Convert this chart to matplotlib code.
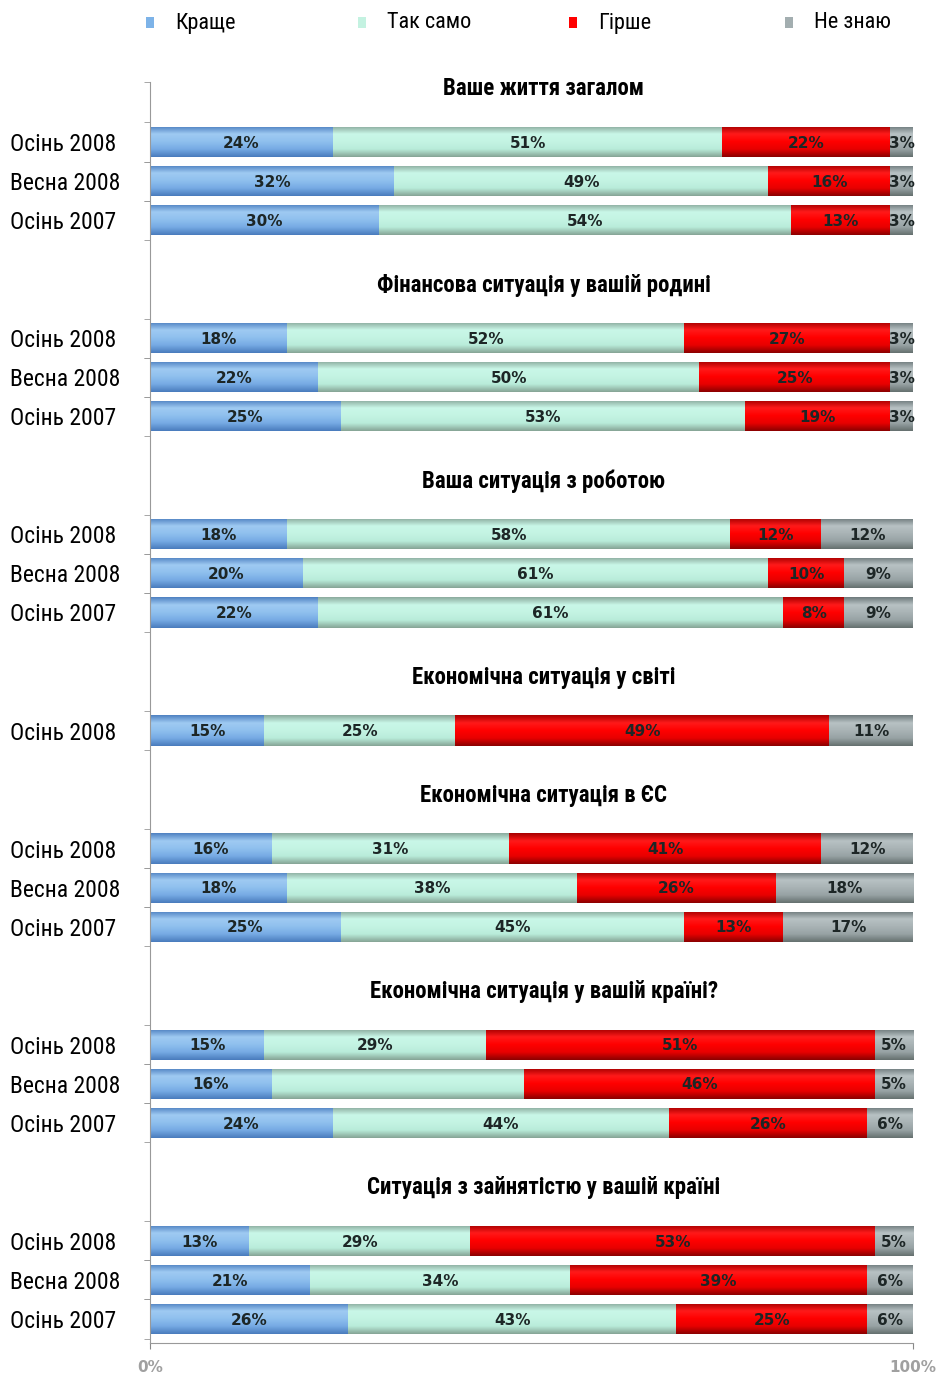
import matplotlib
matplotlib.use("Agg")
import numpy as np
import matplotlib.pyplot as plt
from matplotlib.patches import Rectangle
from matplotlib import font_manager
from matplotlib.font_manager import FontProperties
from matplotlib.colors import LinearSegmentedColormap

# ---- pick a condensed font if one is installed ----
def find_condensed(bold):
    best = None
    prefs = ['Liberation Sans Narrow', 'Roboto Condensed', 'DejaVu Sans', 'Open Sans',
             'Noto Sans', 'Roboto', 'Liberation Sans']
    for f in font_manager.fontManager.ttflist:
        st = str(f.stretch).lower()
        if not ('condensed' in st or 'narrow' in st or 'Narrow' in f.name or 'Condensed' in f.name):
            continue
        if f.style != 'normal':
            continue
        w = f.weight if isinstance(f.weight, int) else (700 if 'bold' in str(f.weight) else 400)
        if bold and w < 600:
            continue
        if not bold and w != 400:
            continue
        rank = prefs.index(f.name) if f.name in prefs else 99
        if best is None or rank < best[0]:
            best = (rank, f.fname)
    return best[1] if best else None

reg_file = find_condensed(False)
bold_file = find_condensed(True)
reg_fp = FontProperties(fname=reg_file) if reg_file else FontProperties(family='Liberation Sans')
bold_fp = FontProperties(fname=bold_file) if bold_file else FontProperties(family='Liberation Sans', weight='bold')
cond_ok = reg_file is not None

categories = ['Краще', 'Так само', 'Гірше', 'Не знаю']
colors = ['#7db3e8', '#c4f2e1', '#ff0000', '#a3aeb0']
# vertical shading of each bar (top -> bottom)
shades = [
    ['#4f82c2', '#9fcaf2', '#8fc0ee', '#76aae4', '#4a7cbd'],
    ['#8cab9e', '#c9f7e8', '#c4f4e3', '#b9ecda', '#86a596'],
    ['#a80000', '#ff1a1a', '#ff0000', '#e80000', '#8c0000'],
    ['#6f7b7d', '#b8c2c4', '#a9b3b5', '#97a2a4', '#66716f'],
]

titles = [
    'Ваше життя загалом',
    'Фінансова ситуація у вашій родині',
    'Ваша ситуація з роботою',
    'Економічна ситуація у світі',
    'Економічна ситуація в ЄС',
    'Економічна ситуація у вашій країні?',
    'Ситуація з зайнятістю у вашій країні',
]
periods = [
    ['Осінь 2008', 'Весна 2008', 'Осінь 2007'],
    ['Осінь 2008', 'Весна 2008', 'Осінь 2007'],
    ['Осінь 2008', 'Весна 2008', 'Осінь 2007'],
    ['Осінь 2008'],
    ['Осінь 2008', 'Весна 2008', 'Осінь 2007'],
    ['Осінь 2008', 'Весна 2008', 'Осінь 2007'],
    ['Осінь 2008', 'Весна 2008', 'Осінь 2007'],
]
values = [
    [[24, 51, 22, 3], [32, 49, 16, 3], [30, 54, 13, 3]],
    [[18, 52, 27, 3], [22, 50, 25, 3], [25, 53, 19, 3]],
    [[18, 58, 12, 12], [20, 61, 10, 9], [22, 61, 8, 9]],
    [[15, 25, 49, 11]],
    [[16, 31, 41, 12], [18, 38, 26, 18], [25, 45, 13, 17]],
    [[15, 29, 51, 5], [16, 33, 46, 5], [24, 44, 26, 6]],
    [[13, 29, 53, 5], [21, 34, 39, 6], [26, 43, 25, 6]],
]
# segments whose label is not shown in the original: (group, row, category)
hidden_labels = [(5, 1, 1)]

W, H = 941, 1376
fig = plt.figure(figsize=(W / 100, H / 100), dpi=100)
ax_top_px, ax_bot_px = 72, 1343
ax_l_px, ax_r_px = 150, 913
ax = fig.add_axes([ax_l_px / W, 1 - ax_bot_px / H, (ax_r_px - ax_l_px) / W,
                   (ax_bot_px - ax_top_px) / H])

title_gap, group_gap = 1.36, 1.66
y = 0.0
title_pos, row_pos, row_lab, row_vals, row_ids = [], [], [], [], []
boundaries = []
for g, (t, ps, vs) in enumerate(zip(titles, periods, values)):
    title_pos.append(y)
    y += title_gap
    for r, (p, v) in enumerate(zip(ps, vs)):
        row_pos.append(y)
        row_lab.append(p)
        row_vals.append(v)
        row_ids.append((g, r))
        boundaries += [y - 0.5, y + 0.5]
        y += 1
    y += group_gap - 1

# map: first row centre at 142 px, last row centre at 1319 px
px_per_unit = (1319 - 142) / (row_pos[-1] - row_pos[0])
ymin = row_pos[0] - (142 - ax_top_px) / px_per_unit
ymax = row_pos[0] + (ax_bot_px - 142) / px_per_unit
ax.set_ylim(ymax, ymin)
ax.set_xlim(0, 100)

bar_h = 0.77
for k, cat in enumerate(categories):
    lefts = [sum(v[:k]) for v in row_vals]
    widths = [v[k] for v in row_vals]
    bars = ax.barh(row_pos, widths, left=lefts, height=bar_h, color=colors[k],
                   edgecolor='none', linewidth=0, label=cat)
    cmap = LinearSegmentedColormap.from_list(f'c{k}', shades[k])
    grad = np.linspace(0, 1, 64).reshape(-1, 1)
    for p in bars.patches:
        x0, y0, w0, h0 = p.get_x(), p.get_y(), p.get_width(), p.get_height()
        im = ax.imshow(grad, cmap=cmap, aspect='auto', interpolation='bilinear',
                       extent=(x0, x0 + w0, y0 + h0, y0), zorder=p.get_zorder() + 0.1)
        im.set_clip_path(p)
    for yy, l, w, rid in zip(row_pos, lefts, widths, row_ids):
        if (rid[0], rid[1], k) in hidden_labels:
            continue
        ax.text(l + w / 2, yy + 0.03, f'{w}%', ha='center', va='center',
                fontsize=11, fontweight='bold', color='#1d2626',
                family='DejaVu Sans', zorder=5)
ax.set_ylim(ymax, ymin)
ax.set_xlim(0, 100)

tsize = 16.5 if cond_ok else 13
for t, yy in zip(titles, title_pos):
    fp = bold_fp.copy(); fp.set_size(tsize)
    ax.text(51.6, yy, t, ha='center', va='center', fontproperties=fp, color='black')

lsize = 17 if cond_ok else 12
ax.set_yticks(row_pos)
fp = reg_fp.copy(); fp.set_size(lsize)
ax.set_yticklabels(row_lab, fontproperties=fp, ha='left')
ax.tick_params(axis='y', length=0, pad=(ax_l_px - 10) * 0.72)
ax.set_yticks(boundaries + [ymin + 0.25], minor=True)
ax.tick_params(axis='y', which='minor', length=4, color='#999999', direction='out')
ax.set_xticks([0, 100])
ax.set_xticklabels(['0%', '100%'], fontsize=11, fontweight='bold', color='#a0a0a0')
ax.tick_params(axis='x', length=4, color='#888888', pad=8)
for s in ['top', 'right']:
    ax.spines[s].set_visible(False)
ax.spines['left'].set_color('#999999')
ax.spines['bottom'].set_color('#999999')
ax.spines['left'].set_bounds(ymax, ymin + 0.25)

# legend
leg_x = [150, 362, 573, 789]
gsize = 16 if cond_ok else 14
for k, cat in enumerate(categories):
    fig.add_artist(Rectangle((leg_x[k] / W - 0.004, 1 - 28 / H), 8 / W, 11 / H,
                             transform=fig.transFigure, facecolor=colors[k],
                             edgecolor='none'))
    fp = reg_fp.copy(); fp.set_size(gsize)
    fig.text((leg_x[k] + 25) / W, 1 - 23 / H, cat, ha='left', va='center',
             fontproperties=fp, color='black')

fig.savefig('out.png', dpi=100)
